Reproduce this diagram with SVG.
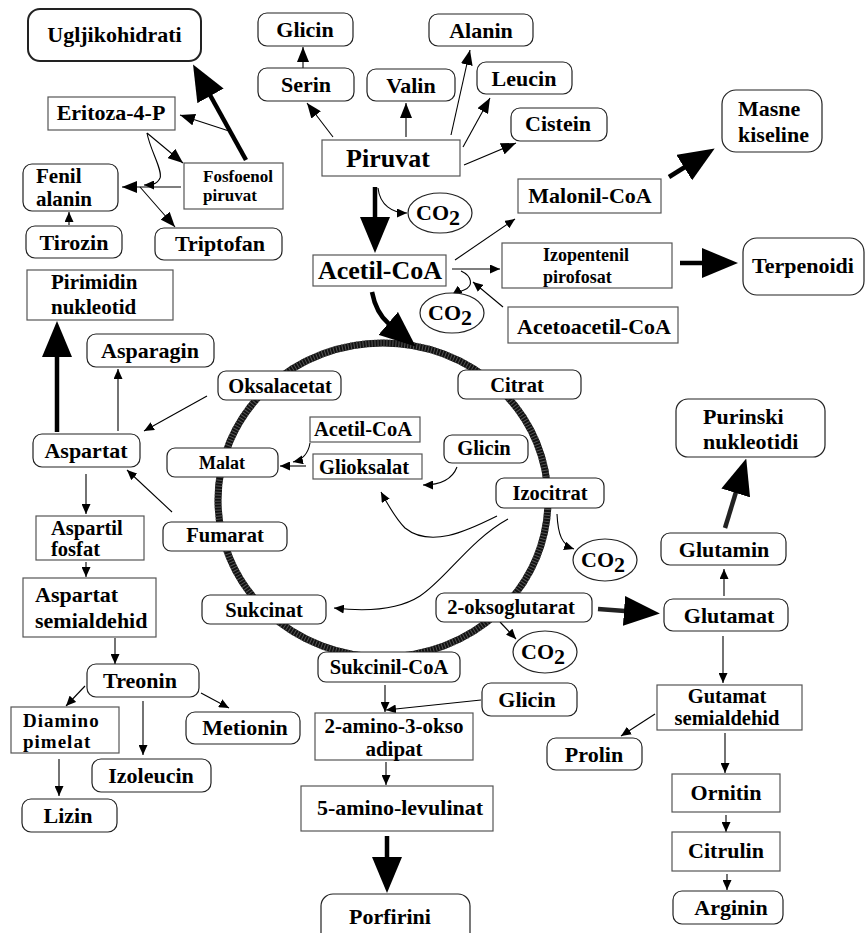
<svg xmlns="http://www.w3.org/2000/svg" width="865" height="933" viewBox="0 0 865 933">
<style>
text{font-family:"Liberation Serif","Times New Roman",serif;font-weight:bold;font-size:22px;fill:#000}
.c{text-anchor:middle}
.f26{font-size:26px}
.f21{font-size:21px}
.f20{font-size:20.5px}
.f19{font-size:19px}
.f18{font-size:18px}
.f17{font-size:17px}
.r{fill:#fff;stroke:#222;stroke-width:1.2}
.b{fill:#fff;stroke:#555;stroke-width:1.2}
.e{fill:#fff;stroke:#222;stroke-width:1.2}
.l{fill:none;stroke:#000;stroke-width:1.1}
.k{fill:none;stroke:#000;stroke-width:4.5}
.ring{fill:none;stroke:#111;stroke-width:7}
.hatch{fill:none;stroke:#555;stroke-width:7;stroke-dasharray:1 2}
</style>
<defs>
<marker id="s" markerUnits="userSpaceOnUse" markerWidth="10" markerHeight="9" refX="10" refY="4.5" orient="auto"><path d="M0,0 L10,4.5 L0,9 z"/></marker>
<marker id="m" markerUnits="userSpaceOnUse" markerWidth="15" markerHeight="12" refX="15" refY="6" orient="auto"><path d="M0,0 L15,6 L0,12 z"/></marker>
<marker id="h" markerUnits="userSpaceOnUse" markerWidth="36" markerHeight="30" refX="1" refY="15" orient="auto"><path d="M0,0 L36,15 L0,30 z"/></marker>
</defs>
<rect width="865" height="933" fill="#fff"/>
<g id="cycle">
<ellipse class="ring" cx="383" cy="500" rx="165" ry="157"/>
<ellipse class="hatch" cx="383" cy="500" rx="165" ry="157"/>
</g>
<g id="connectors">
<path class="k" d="M246,160 L210,95" marker-end="url(#h)"/>
<path class="l" d="M229,131 L180,115" marker-end="url(#m)"/>
<path class="l" d="M147,133 L183,163" marker-end="url(#m)"/>
<path class="l" d="M147,133 C150,150 163,170 160,178 C157,185 150,185 144,185" marker-end="url(#s)"/>
<path class="l" d="M181,187 L122,187" marker-end="url(#m)"/>
<path class="l" d="M140,187 L175,227" marker-end="url(#m)"/>
<path class="l" d="M69,225 L69,212" marker-end="url(#s)"/>
<path class="l" d="M333,137 L307,103" marker-end="url(#m)"/>
<path class="l" d="M303,68 L303,47" marker-end="url(#m)"/>
<path class="l" d="M406,137 L406,103" marker-end="url(#m)"/>
<path class="l" d="M451,135 L470,50" marker-end="url(#m)"/>
<path class="l" d="M463,147 L490,98" marker-end="url(#m)"/>
<path class="l" d="M464,165 L516,143" marker-end="url(#m)"/>
<path class="k" d="M375,187 L375,218" marker-end="url(#h)"/>
<path class="l" d="M378,188 C380,205 392,213 407,213" marker-end="url(#s)"/>
<path class="k" d="M669,177 L685,167" marker-end="url(#h)"/>
<path class="k" d="M680,263 L703,263" marker-end="url(#h)"/>
<path class="l" d="M455,260 L515,219" marker-end="url(#s)"/>
<path class="l" d="M452,269 L500,269" marker-end="url(#s)"/>
<path class="l" d="M461,271 C472,276 474,286 464,290 C459,292 455,293 452,295" marker-end="url(#s)"/>
<path class="l" d="M503,307 L473,282" marker-end="url(#s)"/>
<path class="k" d="M372,292 Q376,313 389,324" marker-end="url(#h)"/>
<path class="k" d="M57,432 L57,356" marker-end="url(#h)"/>
<path class="l" d="M118,431 L118,369" marker-end="url(#s)"/>
<path class="l" d="M207,396 L144,431" marker-end="url(#s)"/>
<path class="l" d="M86,474 L86,514" marker-end="url(#s)"/>
<path class="l" d="M172,512 L127,470" marker-end="url(#s)"/>
<path class="l" d="M310,443 C308,455 302,460 293,462" marker-end="url(#s)"/>
<path class="l" d="M306,466 L280,466" marker-end="url(#s)"/>
<path class="l" d="M457,467 C452,480 440,485 423,485" marker-end="url(#s)"/>
<path class="l" d="M497,516 C465,532 430,548 405,528 C395,518 388,505 381,492" marker-end="url(#s)"/>
<path class="l" d="M508,519 C470,540 445,580 420,596 C395,612 360,611 334,608" marker-end="url(#s)"/>
<path class="l" d="M557,514 C558,535 562,545 574,549" marker-end="url(#s)"/>
<path class="l" d="M500,622 L516,639" marker-end="url(#s)"/>
<path class="k" d="M598,609 L625,611" marker-end="url(#h)" style="stroke:#222"/>
<path class="l" d="M724,596 L724,569" marker-end="url(#s)"/>
<path class="k" d="M725,528 L736,492" marker-end="url(#h)" style="stroke:#222"/>
<path class="l" d="M723,636 L723,683" marker-end="url(#s)"/>
<path class="l" d="M655,714 L621,736" marker-end="url(#s)"/>
<path class="l" d="M725,733 L725,773" marker-end="url(#s)"/>
<path class="l" d="M726,815 L726,832" marker-end="url(#s)"/>
<path class="l" d="M727,874 L727,890" marker-end="url(#s)"/>
<path class="l" d="M385,685 L385,712" marker-end="url(#s)"/>
<path class="l" d="M481,700 L386,710" marker-end="url(#s)"/>
<path class="l" d="M386,762 L386,785" marker-end="url(#s)"/>
<path class="k" d="M387,836 L387,858" marker-end="url(#h)"/>
<path class="l" d="M86,562 L86,577" marker-end="url(#s)"/>
<path class="l" d="M115,638 L115,664" marker-end="url(#s)"/>
<path class="l" d="M85,686 L66,706" marker-end="url(#s)"/>
<path class="l" d="M143,701 L143,755" marker-end="url(#s)"/>
<path class="l" d="M201,693 L229,708" marker-end="url(#s)"/>
<path class="l" d="M59,759 L59,796" marker-end="url(#s)"/>
</g>
<g id="ugljikohidrati"><rect class="r" x="28" y="9" width="173" height="52" rx="12" style="stroke-width:2"/><text class="c" x="114.5" y="42">Ugljikohidrati</text></g>
<g id="glicin1"><rect class="r" x="258" y="13" width="95" height="33" rx="9"/><text class="c" x="305" y="37">Glicin</text></g>
<g id="alanin"><rect class="r" x="429" y="14" width="104" height="32" rx="9"/><text class="c" x="481" y="38">Alanin</text></g>
<g id="serin"><rect class="r" x="258" y="68" width="96" height="33" rx="9"/><text class="c" x="306" y="92">Serin</text></g>
<g id="valin"><rect class="r" x="367" y="69" width="88" height="32" rx="9"/><text class="c" x="411" y="93">Valin</text></g>
<g id="leucin"><rect class="r" x="477" y="62" width="95" height="32" rx="9"/><text class="c" x="524" y="86">Leucin</text></g>
<g id="cistein"><rect class="r" x="511" y="108" width="96" height="33" rx="9"/><text class="c" x="558" y="131">Cistein</text></g>
<g id="masne"><rect class="r" x="722" y="90" width="100" height="62" rx="14"/><text x="738" y="116">Masne</text><text x="738" y="142">kiseline</text></g>
<g id="eritoza"><rect class="b" x="48" y="97" width="127" height="33"/><text class="c" x="111" y="120">Eritoza-4-P</text></g>
<g id="piruvat"><rect class="b" x="322" y="140" width="138" height="36"/><text class="c f26" x="388" y="167">Piruvat</text></g>
<g id="fosfoenol"><rect class="b" x="184" y="163" width="99" height="46"/><text class="f17" x="203" y="182">Fosfoenol</text><text class="f17" x="203" y="201">piruvat</text></g>
<g id="fenil"><rect class="r" x="23" y="164" width="95" height="47" rx="9"/><text class="f21" x="36" y="183">Fenil</text><text class="f21" x="36" y="206">alanin</text></g>
<g id="malonil"><rect class="b" x="518" y="179" width="143" height="34"/><text class="c" x="590" y="203">Malonil-CoA</text></g>
<g id="co2a"><ellipse class="e" cx="440" cy="213" rx="32" ry="20"/><text class="c" x="438" y="220">CO<tspan dy="5">2</tspan></text></g>
<g id="tirozin"><rect class="r" x="26" y="226" width="96" height="32" rx="9"/><text class="c" x="74" y="250">Tirozin</text></g>
<g id="triptofan"><rect class="r" x="155" y="228" width="127" height="32" rx="9"/><text class="c" x="220" y="251">Triptofan</text></g>
<g id="terpenoidi"><rect class="r" x="743" y="238" width="121" height="57" rx="14"/><text class="c" x="803" y="273">Terpenoidi</text></g>
<g id="izopentenil"><rect class="b" x="502" y="243" width="170" height="45"/><text class="f18" x="543" y="261">Izopentenil</text><text class="f18" x="543" y="283">pirofosat</text></g>
<g id="acetilcoa"><rect class="b" x="313" y="255" width="133" height="31"/><text class="c f26" x="380" y="279">Acetil-CoA</text></g>
<g id="co2b"><ellipse class="e" cx="452" cy="313" rx="32" ry="20"/><text class="c" x="450" y="320">CO<tspan dy="5">2</tspan></text></g>
<g id="acetoacetil"><rect class="b" x="508" y="307" width="170" height="36"/><text class="c" x="594" y="334">Acetoacetil-CoA</text></g>
<g id="pirimidin"><rect class="b" x="27" y="270" width="146" height="50"/><text class="f21" x="51" y="289">Pirimidin</text><text class="f21" x="51" y="314">nukleotid</text></g>
<g id="asparagin"><rect class="r" x="87" y="334" width="127" height="33" rx="9"/><text class="c" x="150" y="358">Asparagin</text></g>
<g id="oksalacetat"><rect class="r" x="218" y="371" width="123" height="29" rx="8"/><text class="c f20" x="280" y="393">Oksalacetat</text></g>
<g id="citrat"><rect class="r" x="458" y="370" width="123" height="29" rx="8"/><text class="c f20" x="517" y="392">Citrat</text></g>
<g id="acetilcoa2"><rect class="b" x="310" y="417" width="110" height="25"/><text class="c f20" x="363" y="436">Acetil-CoA</text></g>
<g id="glicin2"><rect class="r" x="444" y="435" width="84" height="28" rx="8"/><text class="c f20" x="484" y="455">Glicin</text></g>
<g id="aspartat"><rect class="r" x="33" y="434" width="107" height="33" rx="9"/><text class="c" x="86" y="458">Aspartat</text></g>
<g id="malat"><rect class="r" x="167" y="448" width="111" height="29" rx="8"/><text class="c f18" x="222" y="469">Malat</text></g>
<g id="glioksalat"><rect class="b" x="313" y="454" width="109" height="25"/><text class="c f20" x="364" y="474">Glioksalat</text></g>
<g id="izocitrat"><rect class="r" x="496" y="478" width="108" height="30" rx="8"/><text class="c f20" x="550" y="500">Izocitrat</text></g>
<g id="aspartil"><rect class="b" x="36" y="516" width="108" height="44"/><text class="f20" x="51" y="535">Aspartil</text><text class="f20" x="51" y="556">fosfat</text></g>
<g id="fumarat"><rect class="r" x="163" y="522" width="124" height="29" rx="8"/><text class="c f20" x="225" y="542">Fumarat</text></g>
<g id="co2c"><ellipse class="e" cx="605" cy="560" rx="32" ry="21"/><text class="c" x="603" y="567">CO<tspan dy="5">2</tspan></text></g>
<g id="semialdehid"><rect class="b" x="23" y="578" width="133" height="59"/><text x="35" y="602">Aspartat</text><text x="35" y="628">semialdehid</text></g>
<g id="sukcinat"><rect class="r" x="202" y="595" width="124" height="29" rx="8"/><text class="c f20" x="264" y="617">Sukcinat</text></g>
<g id="oksoglutarat"><rect class="r" x="436" y="593" width="156" height="29" rx="8"/><text class="c f20" x="511" y="614">2-oksoglutarat</text></g>
<g id="co2d"><ellipse class="e" cx="545" cy="652" rx="32" ry="21"/><text class="c" x="543" y="659">CO<tspan dy="5">2</tspan></text></g>
<g id="sukcinilcoa"><rect class="r" x="318" y="652" width="142" height="30" rx="8"/><text class="c f20" x="389" y="674">Sukcinil-CoA</text></g>
<g id="glicin3"><rect class="r" x="482" y="683" width="95" height="33" rx="9"/><text class="c" x="527" y="707">Glicin</text></g>
<g id="purinski"><rect class="r" x="676" y="399" width="149" height="58" rx="12"/><text x="703" y="424">Purinski</text><text x="703" y="449">nukleotidi</text></g>
<g id="glutamin"><rect class="r" x="661" y="533" width="125" height="32" rx="9"/><text class="c" x="724" y="557">Glutamin</text></g>
<g id="glutamat"><rect class="r" x="664" y="599" width="124" height="32" rx="9"/><text class="c" x="729" y="623">Glutamat</text></g>
<g id="gutamat"><rect class="b" x="657" y="685" width="145" height="45"/><text class="c f20" x="727" y="703">Gutamat</text><text class="c f20" x="727" y="725">semialdehid</text></g>
<g id="prolin"><rect class="r" x="547" y="738" width="95" height="32" rx="9"/><text class="c" x="594" y="762">Prolin</text></g>
<g id="ornitin"><rect class="b" x="672" y="774" width="108" height="38"/><text class="c" x="726" y="800">Ornitin</text></g>
<g id="citrulin"><rect class="b" x="672" y="832" width="108" height="39"/><text class="c" x="726" y="858">Citrulin</text></g>
<g id="arginin"><rect class="r" x="673" y="891" width="110" height="33" rx="9"/><text class="c" x="731" y="915">Arginin</text></g>
<g id="treonin"><rect class="r" x="87" y="664" width="112" height="33" rx="9"/><text class="c" x="140" y="688">Treonin</text></g>
<g id="diamino"><rect class="b" x="11" y="707" width="108" height="46"/><text class="f19" x="23" y="727" style="letter-spacing:1px">Diamino</text><text class="f19" x="23" y="748" style="letter-spacing:1px">pimelat</text></g>
<g id="metionin"><rect class="r" x="186" y="712" width="114" height="32" rx="9"/><text class="c" x="245" y="735">Metionin</text></g>
<g id="amino3okso"><rect class="b" x="315" y="713" width="158" height="47"/><text class="c f21" x="394" y="733">2-amino-3-okso</text><text class="c f21" x="394" y="756">adipat</text></g>
<g id="izoleucin"><rect class="r" x="92" y="759" width="119" height="33" rx="9"/><text class="c" x="151" y="783">Izoleucin</text></g>
<g id="levulinat"><rect class="b" x="301" y="786" width="192" height="45"/><text class="c" x="400" y="815">5-amino-levulinat</text></g>
<g id="lizin"><rect class="r" x="22" y="799" width="95" height="33" rx="9"/><text class="c" x="68" y="823">Lizin</text></g>
<g id="porfirini"><rect class="r" x="321" y="894" width="149" height="52" rx="12"/><text class="c" x="390" y="924">Porfirini</text></g>
</svg>
